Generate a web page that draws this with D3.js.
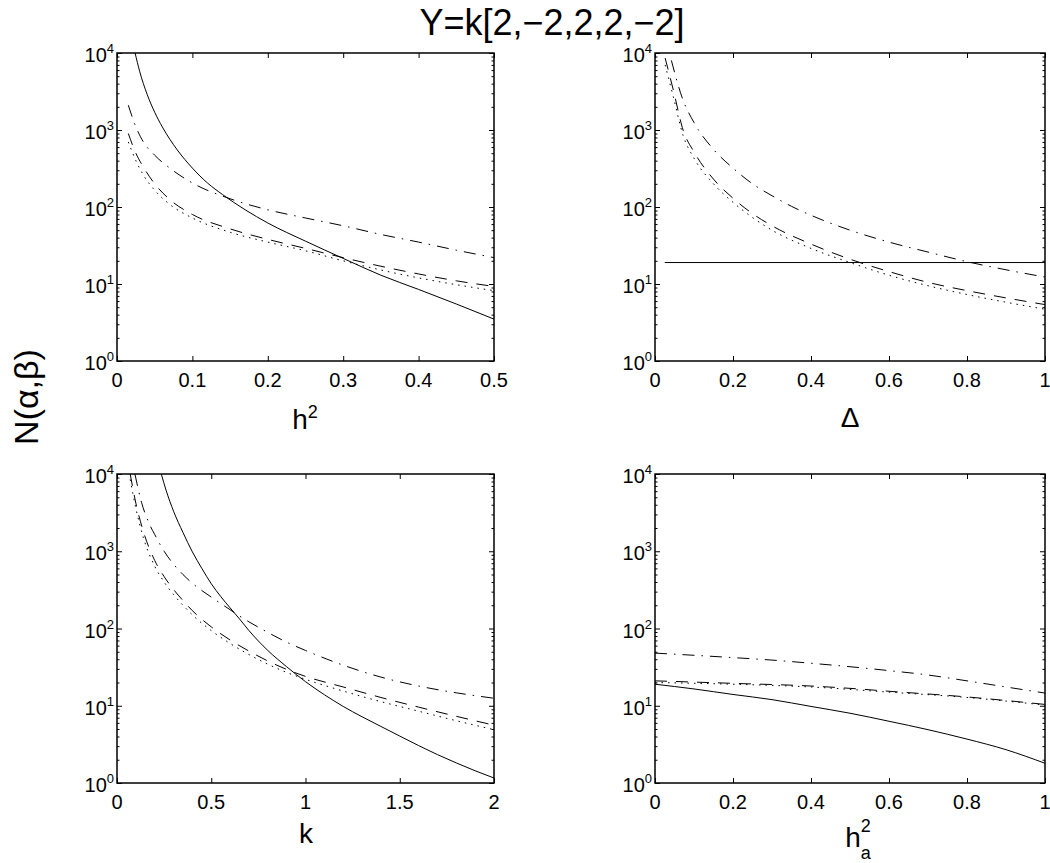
<!DOCTYPE html>
<html lang="en">
<head>
<meta charset="UTF-8">
<title>N(α,β) for Y=k[2,−2,2,2,−2]</title>
<script src="https://cdn.jsdelivr.net/npm/d3@7/dist/d3.min.js"></script>
<style>
    body { margin: 0; background: #fff; }
    svg { display: block; font-family: "Liberation Sans", Arial, Helvetica, sans-serif; }
</style>
</head>
<body>
<script>
    // values, [x, N] pairs

    // panel 1, x = h^2
    var h2Solid   = [[0.024,10000],[0.03,5800],[0.04,2900],[0.05,1700],[0.06,1100],[0.07,760],[0.08,550],[0.1,320],[0.12,205],[0.14,145],[0.17,92],[0.2,62],[0.25,36],[0.3,21.5],[0.35,13],[0.4,8.5],[0.45,5.5],[0.5,3.5]];
    var h2Dashed  = [[0.015,900],[0.025,500],[0.035,330],[0.05,200],[0.07,125],[0.1,80],[0.15,52],[0.2,38],[0.25,29],[0.3,22],[0.35,17],[0.4,13.5],[0.45,11],[0.5,9.3]];
    var h2DashDot = [[0.015,2100],[0.025,1100],[0.035,700],[0.05,470],[0.07,320],[0.1,205],[0.15,128],[0.2,92],[0.25,72],[0.3,57],[0.35,44],[0.4,35],[0.45,27.5],[0.5,22]];
    var h2Dotted  = [[0.015,700],[0.025,400],[0.035,260],[0.05,165],[0.07,108],[0.1,72],[0.15,47],[0.2,35],[0.25,27],[0.3,20],[0.35,15.2],[0.4,12],[0.45,9.8],[0.5,8.2]];

    // panel 2, x = Delta
    var dSolid   = [[0.025,19],[1,19]];
    var dDashed  = [[0.026,8600],[0.047,3300],[0.072,1000],[0.1,520],[0.15,230],[0.2,130],[0.25,82],[0.3,57],[0.4,33],[0.5,21],[0.6,14.5],[0.7,10.5],[0.8,8.2],[0.9,6.6],[1,5.4]];
    var dDashDot = [[0.042,8000],[0.07,2600],[0.1,1250],[0.15,560],[0.2,320],[0.25,200],[0.3,140],[0.35,102],[0.4,78],[0.5,50],[0.6,35],[0.7,26],[0.8,19.5],[0.9,15.3],[1,12.3]];
    var dDotted  = [[0.026,7000],[0.047,2700],[0.072,850],[0.1,430],[0.15,200],[0.2,115],[0.25,73],[0.3,50],[0.4,29],[0.5,19],[0.6,13],[0.7,9.5],[0.8,7.3],[0.9,5.8],[1,4.7]];

    // panel 3, x = k
    var kSolid   = [[0.235,10000],[0.26,6200],[0.3,3300],[0.35,1750],[0.4,980],[0.45,600],[0.5,380],[0.55,260],[0.6,185],[0.65,133],[0.7,94],[0.8,52],[0.9,32],[1,20.5],[1.1,13.9],[1.2,9.8],[1.3,7.2],[1.4,5.4],[1.5,4.05],[1.6,3.05],[1.7,2.33],[1.8,1.82],[1.9,1.44],[2,1.16]];
    var kDashed  = [[0.07,10000],[0.1,4200],[0.14,1800],[0.2,760],[0.25,470],[0.3,320],[0.35,230],[0.4,170],[0.5,105],[0.6,71],[0.7,51],[0.8,38],[0.9,29.5],[1,24],[1.2,17.5],[1.4,12.8],[1.6,9.6],[1.8,7.3],[2,5.6]];
    var kDashDot = [[0.095,10000],[0.13,4300],[0.17,2300],[0.2,1650],[0.25,1000],[0.3,680],[0.35,500],[0.4,385],[0.5,255],[0.6,175],[0.65,145],[0.7,122],[0.8,89],[0.9,66.5],[1,52],[1.2,33.5],[1.4,23.5],[1.6,18],[1.8,14.7],[2,12.5]];
    var kDotted  = [[0.07,8500],[0.1,3600],[0.14,1500],[0.2,640],[0.25,400],[0.3,275],[0.35,200],[0.4,150],[0.5,94],[0.6,64],[0.7,46],[0.8,34.5],[0.9,27],[1,22],[1.2,15.5],[1.4,11.3],[1.6,8.5],[1.8,6.4],[2,4.9]];

    // panel 4, x = h_a^2
    var haSolid   = [[0,19],[0.1,16.5],[0.2,14],[0.3,12],[0.4,9.8],[0.5,8],[0.6,6.3],[0.7,4.9],[0.8,3.7],[0.9,2.7],[1,1.8]];
    var haDashed  = [[0,21],[0.2,19.5],[0.4,18],[0.5,16.8],[0.6,15.4],[0.8,13],[1,10.4]];
    var haDashDot = [[0,48],[0.1,45],[0.2,42],[0.3,39],[0.4,35.5],[0.5,32],[0.6,28.5],[0.7,25],[0.8,21],[0.9,17.5],[1,14.6]];
    var haDotted  = [[0,20],[0.2,19],[0.4,17.5],[0.6,15],[0.8,12.8],[1,10.2]];

    // tick labels
    var h2Ticks = [0, 0.1, 0.2, 0.3, 0.4, 0.5];
    var dTicks  = [0, 0.2, 0.4, 0.6, 0.8, 1];
    var kTicks  = [0, 0.5, 1, 1.5, 2];
    var haTicks = [0, 0.2, 0.4, 0.6, 0.8, 1];
    var yTicks  = [1, 10, 100, 1000, 10000];
    var yExps   = ['0', '1', '2', '3', '4'];

    var width = 1050, height = 863;

    // matlab-ish line styles
    var dash = {
        solid: null,
        dashed: '12,9',
        dashdot: '12,7,1.5,7',
        dotted: '1.5,5'
    };

    var panels = [
        {left: 117, top: 53, right: 494, bottom: 361, xDomain: [0, 0.5], xTicks: h2Ticks,
            series: [[h2Solid, 'solid'], [h2Dashed, 'dashed'], [h2DashDot, 'dashdot'], [h2Dotted, 'dotted']]},
        {left: 655, top: 53, right: 1045, bottom: 361, xDomain: [0, 1], xTicks: dTicks,
            series: [[dSolid, 'solid'], [dDashed, 'dashed'], [dDashDot, 'dashdot'], [dDotted, 'dotted']]},
        {left: 117, top: 474, right: 494, bottom: 783, xDomain: [0, 2], xTicks: kTicks,
            series: [[kSolid, 'solid'], [kDashed, 'dashed'], [kDashDot, 'dashdot'], [kDotted, 'dotted']]},
        {left: 655, top: 474, right: 1045, bottom: 783, xDomain: [0, 1], xTicks: haTicks,
            series: [[haSolid, 'solid'], [haDashed, 'dashed'], [haDashDot, 'dashdot'], [haDotted, 'dotted']]}
    ];

    var svg = d3.select('body')
        .append('svg')
        .attr('width', width)
        .attr('height', height);

    // minor ticks of the log axis (2..9 in each decade)
    var minorTicks = [];
    [1, 10, 100, 1000].forEach(function (d) {
        for (var m = 2; m < 10; m++) minorTicks.push(m * d);
    });

    panels.forEach(function (p, i) {
        var w = p.right - p.left, h = p.bottom - p.top;
        var g = svg.append('g').attr('transform', 'translate(' + p.left + ',' + p.top + ')');

        var x = d3.scaleLinear().domain(p.xDomain).range([0, w]);
        var y = d3.scaleLog().domain([1, 10000]).range([h, 0]);

        g.append('clipPath').attr('id', 'clip' + i)
            .append('rect').attr('width', w).attr('height', h);

        var line = d3.line()
            .x(function (d) { return x(d[0]); })
            .y(function (d) { return y(d[1]); })
            .curve(d3.curveMonotoneX);

        g.append('g').attr('clip-path', 'url(#clip' + i + ')')
            .selectAll('path')
            .data(p.series)
            .enter().append('path')
            .attr('d', function (s) { return line(s[0]); })
            .attr('fill', 'none')
            .attr('stroke', '#000')
            .attr('stroke-width', 1)
            .attr('stroke-dasharray', function (s) { return dash[s[1]]; });

        // ticks pointing inward on all four sides
        var axes = [
            [d3.axisBottom(x).tickValues(p.xTicks).tickSize(-5), 0, h],
            [d3.axisTop(x).tickValues(p.xTicks).tickSize(-5), 0, 0],
            [d3.axisLeft(y).tickValues(yTicks).tickSize(-5), 0, 0],
            [d3.axisLeft(y).tickValues(minorTicks).tickSize(-2.5), 0, 0],
            [d3.axisRight(y).tickValues(yTicks).tickSize(-5), w, 0],
            [d3.axisRight(y).tickValues(minorTicks).tickSize(-2.5), w, 0]
        ];
        axes.forEach(function (a) {
            var ag = g.append('g')
                .attr('transform', 'translate(' + a[1] + ',' + a[2] + ')')
                .call(a[0].tickFormat(''));
            ag.select('.domain').remove();
            ag.selectAll('line').attr('stroke', '#000');
        });

        g.append('rect')
            .attr('width', w).attr('height', h)
            .attr('fill', 'none')
            .attr('stroke', '#000')
            .attr('stroke-width', 1.5);

        // x tick labels
        g.selectAll('.xl')
            .data(p.xTicks)
            .enter().append('text')
            .attr('x', function (d) { return x(d); })
            .attr('y', h + 26)
            .attr('text-anchor', 'middle')
            .attr('font-size', 20)
            .text(function (d) { return String(d); });

        // y tick labels 10^n
        var yl = g.selectAll('.yl')
            .data(yTicks)
            .enter().append('text')
            .attr('x', -3)
            .attr('y', function (d) { return y(d) + 9; })
            .attr('text-anchor', 'end')
            .attr('font-size', 20);
        yl.append('tspan').text('10');
        yl.append('tspan')
            .attr('dy', -9)
            .attr('font-size', 13)
            .text(function (d, j) { return yExps[j]; });
    });

    // axis titles
    var t1 = svg.append('text').attr('x', 305).attr('y', 429).attr('text-anchor', 'middle').attr('font-size', 28);
    t1.append('tspan').text('h');
    t1.append('tspan').attr('dy', -11).attr('font-size', 18).text('2');

    svg.append('text').attr('x', 850).attr('y', 427).attr('text-anchor', 'middle')
        .attr('font-size', 28).text('\u0394');

    svg.append('text').attr('x', 306).attr('y', 843).attr('text-anchor', 'middle')
        .attr('font-size', 28).text('k');

    var t4 = svg.append('text').attr('x', 858).attr('y', 847).attr('text-anchor', 'middle').attr('font-size', 28);
    t4.append('tspan').text('h');
    t4.append('tspan').attr('dy', 12).attr('font-size', 18).text('a');
    t4.append('tspan').attr('dx', -10).attr('dy', -27).attr('font-size', 18).text('2');

    // y label and figure title
    svg.append('text')
        .attr('transform', 'translate(38,397) rotate(-90)')
        .attr('text-anchor', 'middle')
        .attr('font-size', 34)
        .text('N(\u03b1,\u03b2)');

    svg.append('text')
        .attr('x', 552).attr('y', 35)
        .attr('text-anchor', 'middle')
        .attr('font-size', 36)
        .text('Y=k[2,\u22122,2,2,\u22122]');
</script>
</body>
</html>
